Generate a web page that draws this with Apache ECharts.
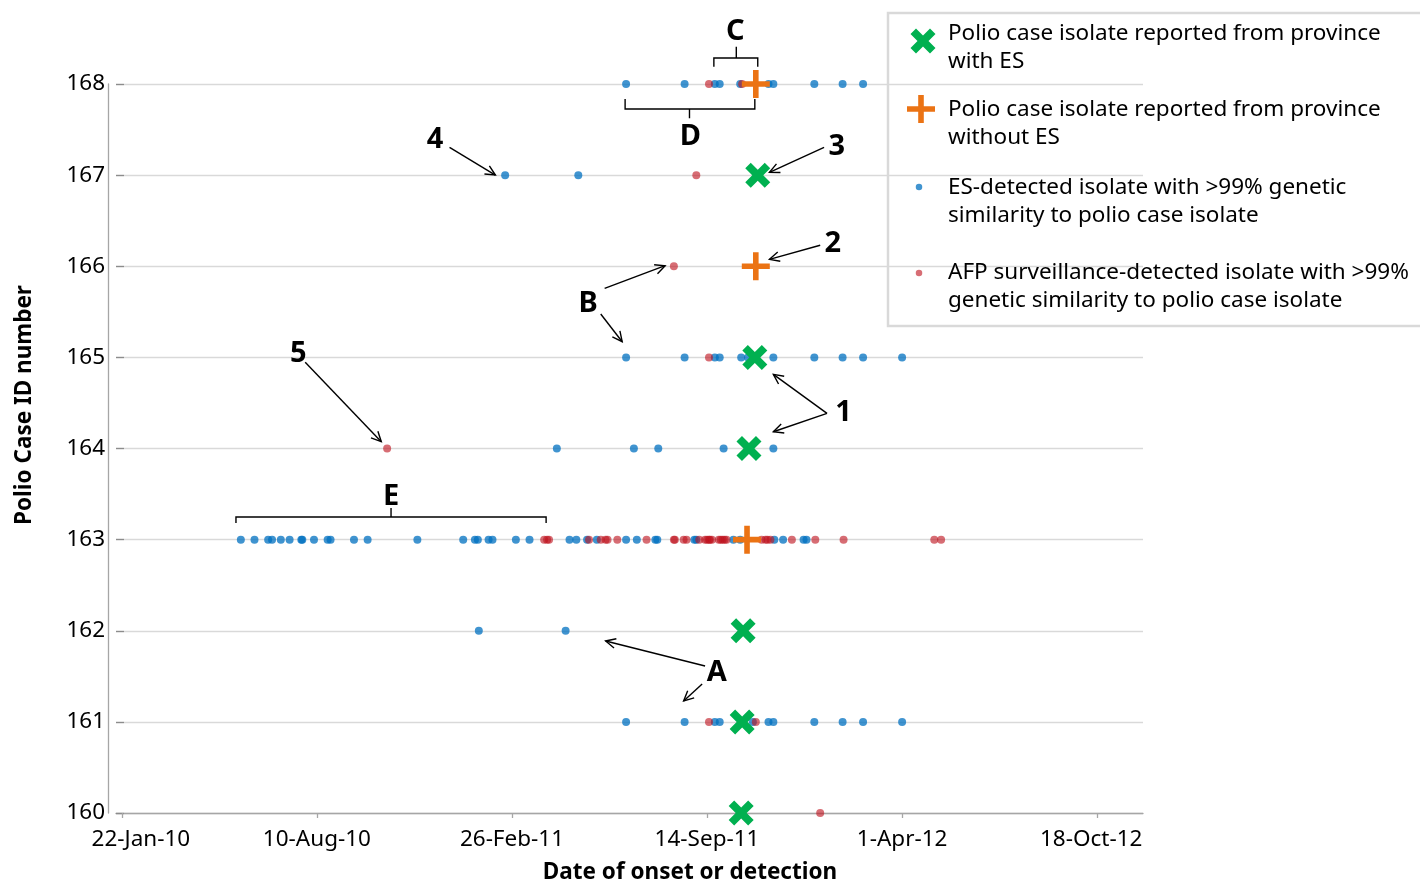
<!DOCTYPE html>
<html><head><meta charset="utf-8">
<script src="https://cdn.jsdelivr.net/npm/echarts@6/dist/echarts.min.js"></script>
<style>html,body{margin:0;padding:0;background:#fff}#c{width:1420px;height:882px}</style>
</head><body><div id="c"></div>
<script>
const FONT = '"Noto Sans", "Open Sans", sans-serif';

// Dates are Excel serial day numbers (40200 = 22-Jan-2010)
const caseIds = [160, 161, 162, 163, 164, 165, 166, 167, 168];
const xTickSerials = [40200, 40400, 40600, 40800, 41000, 41200];
const xAxisTitle = 'Date of onset or detection';
const yAxisTitle = 'Polio Case ID number';
const seriesNames = [
  'Polio case isolate reported from province\nwith ES',
  'Polio case isolate reported from province\nwithout ES',
  'ES-detected isolate with >99% genetic\nsimilarity to polio case isolate',
  'AFP surveillance-detected isolate with >99%\ngenetic similarity to polio case isolate'
];

// polio case isolates
const caseWithES = [[40835,160],[40836,161],[40837,162],[40843,164],[40849,165],[40852,167]];
const caseWithoutES = [[40841,163],[40850,166],[40850,168]];

// ES-detected isolates (per case)
const es161 = [40717,40777,40808,40813,40847,40863,40868,40910,40939,40960,41000];
const es162 = [40566,40655];
const es163 = [40322,40336,40350,40354,40363,40372,40384,40385,40397,40411,40414,40438,40452,40503,
  40550,40562,40565,40576,40580,40604,40618,40659,40666,40677,40687,40717,40728,40747,40749,
  40787,40789,40827,40834,40869,40878,40899,40902];
const es164 = [40646,40725,40750,40817,40868];
const es165 = [40717,40777,40808,40813,40835,40842,40868,40910,40939,40960,41000];
const es167 = [40593,40668];
const es168 = [40717,40777,40808,40813,40834,40863,40868,40910,40939,40960];

// AFP surveillance-detected isolates (per case)
const afp160 = [40916];
const afp161 = [40802,40850];
const afp163 = [40633,40636,40638,40679,40691,40696,40698,40708,40738,40766,40767,40776,40779,
  40792,40798,40800,40802,40803,40805,40812,40814,40816,40818,40820,40856,40860,40862,40865,
  40887,40911,40940,41033,41040];
const afp164 = [40472];
const afp165 = [40802];
const afp166 = [40766];
const afp167 = [40789];
const afp168 = [40802,40836];

function pairs(list, id) { return list.map(d => [d, id]); }
const esPoints = [].concat(pairs(es161,161), pairs(es162,162), pairs(es163,163), pairs(es164,164),
  pairs(es165,165), pairs(es167,167), pairs(es168,168));
const afpPoints = [].concat(pairs(afp160,160), pairs(afp161,161), pairs(afp163,163), pairs(afp164,164),
  pairs(afp165,165), pairs(afp166,166), pairs(afp167,167), pairs(afp168,168));

const MONTHS = ['Jan','Feb','Mar','Apr','May','Jun','Jul','Aug','Sep','Oct','Nov','Dec'];
function serialLabel(v) {
  const d = new Date(Date.UTC(1899, 11, 30) + Math.round(v) * 86400000);
  const s = d.getUTCDate() + '-' + MONTHS[d.getUTCMonth()] + '-' + String(d.getUTCFullYear()).slice(2);
  if (v === xTickSerials[0]) return '{first|' + s + '}';
  if (v === xTickSerials[xTickSerials.length - 1]) return '{last|' + s + '}';
  return s;
}

const X_PATH = 'path://M0,22 L22,0 L50,28 L78,0 L100,22 L72,50 L100,78 L78,100 L50,72 L22,100 L0,78 L28,50 Z';
const PLUS_PATH = 'path://M40,0 H60 V40 H100 V60 H60 V100 H40 V60 H0 V40 H40 Z';
const GREEN = '#00b050', ORANGE = '#eb7314';
const BLUE = 'rgba(0,112,192,0.75)', RED = 'rgba(190,20,30,0.62)';
const LBL = 22.5;

const chart = echarts.init(document.getElementById('c'), null, {renderer: 'canvas'});
chart.setOption({
  animation: false,
  backgroundColor: '#fff',
  textStyle: {fontFamily: FONT},
  grid: {left: 116, right: 277, top: 84, bottom: 69},
  xAxis: {
    type: 'value', min: 40194, max: 41247,
    axisLine: {show: true, lineStyle: {color: '#a6a6a6', width: 1.3}},
    axisTick: {show: true, customValues: xTickSerials, length: 5, lineStyle: {color: '#a6a6a6', width: 1.3}},
    axisLabel: {customValues: xTickSerials, formatter: serialLabel, fontSize: LBL, color: '#000', margin: 15,
      fontFamily: FONT,
      rich: {
        first: {fontSize: LBL, color: '#000', fontFamily: FONT, padding: [0, 0, 0, 38]},
        last: {fontSize: LBL, color: '#000', fontFamily: FONT, padding: [0, 12, 0, 0]}
      }},
    splitLine: {show: false}
  },
  yAxis: [{
    type: 'value', min: 160, max: 168, interval: 1, offset: 8,
    axisLine: {show: true, lineStyle: {color: '#a6a6a6', width: 1.3}},
    axisTick: {show: false},
    axisLabel: {fontSize: LBL, color: '#000', margin: 3, fontFamily: FONT},
    splitLine: {show: true, lineStyle: {color: '#d9d9d9', width: 1.3}}
  }, {
    type: 'value', min: 160, max: 168, interval: 1, position: 'left', offset: 0,
    axisLine: {show: false}, axisLabel: {show: false}, splitLine: {show: false},
    axisTick: {show: true, inside: true, length: 8, lineStyle: {color: '#8c8c8c', width: 1.3}}
  }],
  series: [
    {name: seriesNames[2], type: 'scatter', data: esPoints, symbol: 'circle', symbolSize: 8,
     itemStyle: {color: BLUE, opacity: 1}, z: 2},
    {name: seriesNames[3], type: 'scatter', data: afpPoints, symbol: 'circle', symbolSize: 8,
     itemStyle: {color: RED, opacity: 1}, z: 3},
    {name: seriesNames[0], type: 'scatter', data: caseWithES, symbol: X_PATH, symbolSize: 25,
     itemStyle: {color: GREEN, opacity: 1}, z: 5},
    {name: seriesNames[1], type: 'scatter', data: caseWithoutES, symbol: PLUS_PATH, symbolSize: 28,
     itemStyle: {color: ORANGE, opacity: 1}, z: 5}
  ]
});

// ---- annotations, positioned in data coordinates ----
const labelsAnn = [
  ['C', 40829, 168.57], ['D', 40783, 167.418], ['E', 40476, 163.468],
  ['A', 40810, 161.536], ['B', 40678, 165.593],
  ['1', 40940, 164.39], ['2', 40929, 166.244], ['3', 40933, 167.312],
  ['4', 40521, 167.385], ['5', 40381, 165.045]
];
const arrowsAnn = [
  [[40923,164.386],[40868,164.814]], [[40923,164.386],[40868,164.184]],
  [[40916,166.23],[40864,166.076]],
  [[40920,167.305],[40864,167.031]],
  [[40536,167.305],[40583,167.001]],
  [[40388,164.946],[40466,164.075]],
  [[40695,165.758],[40757,166.006]], [[40691,165.476],[40713,165.172]],
  [[40798,161.613],[40696,161.888]], [[40795,161.416],[40776,161.229]]
];
// brace: [xStart, xEnd, xMid, yEnds, yBar, yTip]
const bracesAnn = [
  [40807, 40852, 40830, 168.19, 168.285, 168.41],
  [40716, 40849, 40782, 167.835, 167.726, 167.624],
  [40317, 40635, 40476, 163.182, 163.248, 163.347]
];

function px(x, y) { return chart.convertToPixel({xAxisIndex: 0, yAxisIndex: 0}, [x, y]); }
const g = [];
const lineStyle = {stroke: '#000', lineWidth: 1.4, fill: null};
labelsAnn.forEach(([t, x, y]) => {
  const p = px(x, y);
  g.push({type: 'text', x: p[0], y: p[1], z: 20, style: {text: t, fill: '#000',
    font: 'bold 29px ' + FONT, textAlign: 'center', textVerticalAlign: 'middle'}});
});
arrowsAnn.forEach(([a, b]) => {
  const p1 = px(a[0], a[1]), p2 = px(b[0], b[1]);
  const ang = Math.atan2(p1[1] - p2[1], p1[0] - p2[0]);
  const L = 11, h = 0.45;
  const h1 = [p2[0] + L * Math.cos(ang + h), p2[1] + L * Math.sin(ang + h)];
  const h2 = [p2[0] + L * Math.cos(ang - h), p2[1] + L * Math.sin(ang - h)];
  g.push({type: 'line', z: 20, shape: {x1: p1[0], y1: p1[1], x2: p2[0], y2: p2[1]}, style: lineStyle});
  g.push({type: 'polyline', z: 20, shape: {points: [h1, p2, h2]}, style: lineStyle});
});
bracesAnn.forEach(([x0, x1, xm, ye, yb, yt]) => {
  g.push({type: 'polyline', z: 20, shape: {points: [px(x0, ye), px(x0, yb), px(x1, yb), px(x1, ye)]}, style: lineStyle});
  g.push({type: 'line', z: 20, shape: {x1: px(xm, yb)[0], y1: px(xm, yb)[1], x2: px(xm, yt)[0], y2: px(xm, yt)[1]}, style: lineStyle});
});

// axis titles
g.push({type: 'text', x: 690, y: 873, z: 20, style: {text: xAxisTitle, fill: '#000',
  font: 'bold 22.5px ' + FONT, textAlign: 'center', textVerticalAlign: 'middle'}});
g.push({type: 'text', x: 25, y: 405, rotation: Math.PI / 2, z: 20, style: {text: yAxisTitle, fill: '#000',
  font: 'bold 22.5px ' + FONT, textAlign: 'center', textVerticalAlign: 'middle'}});

// legend box
const LX = 888, LY = 13;
g.push({type: 'rect', z: 20, shape: {x: LX, y: LY, width: 560, height: 313},
  style: {fill: null, stroke: '#d9d9d9', lineWidth: 2.5}});
const legIcon = [
  {kind: 'x', cx: 923, cy: 41, size: 25, color: GREEN},
  {kind: 'plus', cx: 921, cy: 109, size: 28, color: ORANGE},
  {kind: 'dot', cx: 919, cy: 187, size: 6.5, color: BLUE},
  {kind: 'dot', cx: 919, cy: 273, size: 6.5, color: RED}
];
const legTextTop = [20, 96, 174, 259];
legIcon.forEach((ic, i) => {
  const s = ic.size / 100, ox = ic.cx - ic.size / 2, oy = ic.cy - ic.size / 2;
  if (ic.kind === 'x') {
    const pts = [[0,22],[22,0],[50,28],[78,0],[100,22],[72,50],[100,78],[78,100],[50,72],[22,100],[0,78],[28,50]];
    g.push({type: 'polygon', z: 21, shape: {points: pts.map(p => [ox + p[0] * s, oy + p[1] * s])}, style: {fill: ic.color}});
  } else if (ic.kind === 'plus') {
    const pts = [[40,0],[60,0],[60,40],[100,40],[100,60],[60,60],[60,100],[40,100],[40,60],[0,60],[0,40],[40,40]];
    g.push({type: 'polygon', z: 21, shape: {points: pts.map(p => [ox + p[0] * s, oy + p[1] * s])}, style: {fill: ic.color}});
  } else {
    g.push({type: 'circle', z: 21, shape: {cx: ic.cx, cy: ic.cy, r: ic.size / 2}, style: {fill: ic.color}});
  }
  g.push({type: 'text', x: 948, y: legTextTop[i], z: 21, style: {text: seriesNames[i], fill: '#000',
    font: '22.5px ' + FONT, lineHeight: 28, textAlign: 'left', textVerticalAlign: 'top'}});
});

chart.setOption({graphic: g});
</script>
</body></html>
